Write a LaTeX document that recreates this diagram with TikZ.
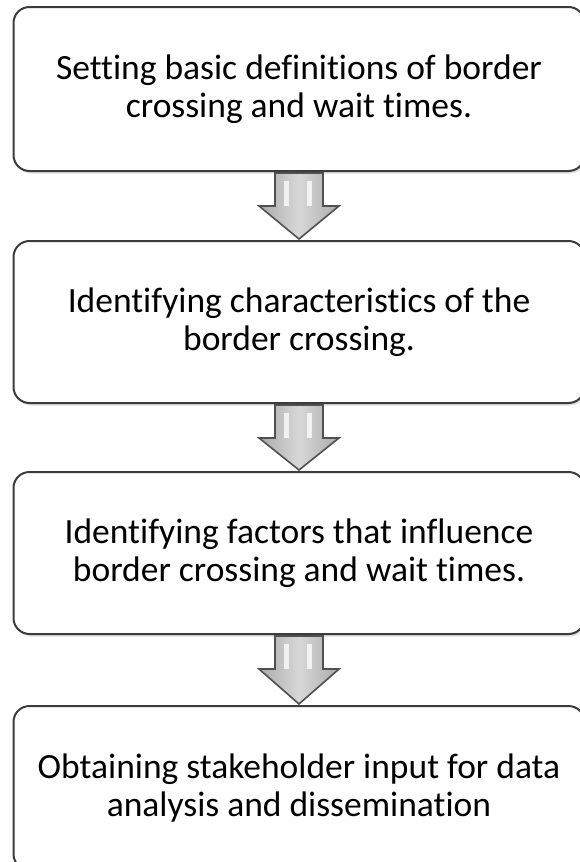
\documentclass[tikz,border=0pt]{standalone}
\usepackage{fontspec}
\setmainfont{Carlito}[Ligatures={NoCommon}]
\usetikzlibrary{calc,shadows}
\definecolor{boxline}{HTML}{3C3C3C}
\definecolor{arrowline}{HTML}{505050}
\definecolor{arrowfill}{HTML}{BDBDBD}
\tikzset{
  stepbox/.style={draw=boxline, line width=2pt, rounded corners=16pt, fill=white,
    minimum width=571pt, minimum height=#1, inner sep=0pt, align=center,
    font=\fontsize{35.5pt}{38pt}\selectfont,
    drop shadow={opacity=0.25, shadow xshift=1.5pt, shadow yshift=-2.5pt}},
  blockarrow/.style={draw=arrowline, line width=1.6pt, line join=miter,
    left color=arrowfill!90!black, right color=arrowfill!90!black, middle color=arrowfill!60!white},
  glint/.style={fill=white, opacity=0.75, draw=none}
}
\newcommand\flowarrow[2]{%
  \draw[blockarrow]
    ($(#1.south)+(-24,1)$) -- ($(#1.south)+(24,1)$) -- ($(#1.south)+(24,34)$)
    -- ($(#1.south)+(40,34)$) -- ($(#2.north)+(0,-1)$) -- ($(#1.south)+(-40,34)$)
    -- ($(#1.south)+(-24,34)$) -- cycle;
  \fill[glint] ($(#1.south)+(-15,9)$) rectangle ($(#1.south)+(-10,34)$);
  \fill[glint] ($(#1.south)+(8,9)$) rectangle ($(#1.south)+(13,34)$);
}
\begin{document}
\begin{tikzpicture}[x=1pt,y=-1pt]
\useasboundingbox (0,0) rectangle (579,862);
\node[stepbox=164pt] (b1) at (299,89) {Setting basic definitions of border\\crossing and wait times.};
\node[stepbox=162pt] (b2) at (299,322) {Identifying characteristics of the\\border crossing.};
\node[stepbox=162pt] (b3) at (299,553) {Identifying factors that influence\\border crossing and wait times.};
\node[stepbox=164pt] (b4) at (299,788) {Obtaining stakeholder input for data\\analysis and dissemination};
\flowarrow{b1}{b2}
\flowarrow{b2}{b3}
\flowarrow{b3}{b4}
\end{tikzpicture}
\end{document}
